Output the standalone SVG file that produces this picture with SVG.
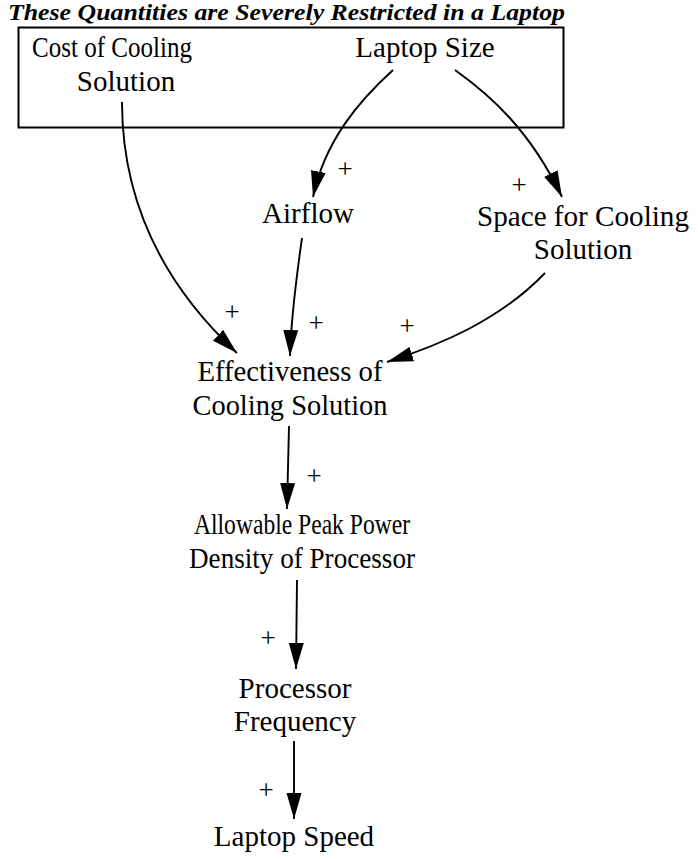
<svg xmlns="http://www.w3.org/2000/svg" width="698" height="859" viewBox="0 0 698 859">
  <style>
    .lbl { font-family: "Liberation Serif", "Times New Roman", serif; font-size: 29px; fill: #000; text-anchor: middle; }
    .sign { font-family: "Liberation Serif", "Times New Roman", serif; font-size: 27px; fill: #000; text-anchor: middle; }
    .title { font-family: "Liberation Serif", "Times New Roman", serif; font-size: 24px; font-weight: bold; font-style: italic; fill: #000; }
    .link { fill: none; stroke: #000; stroke-width: 1.9; marker-end: url(#head); }
  </style>
  <defs>
    <marker id="head" markerUnits="userSpaceOnUse" markerWidth="27" markerHeight="16" refX="26" refY="8" orient="auto">
      <path d="M0,0.5 L26,8 L0,15.5 z" fill="#000"/>
    </marker>
  </defs>
  <rect width="698" height="859" fill="#fff"/>

  <!-- frame around the constrained quantities -->
  <g id="constraints">
    <text class="title" x="8" y="20" textLength="557" lengthAdjust="spacingAndGlyphs">These Quantities are Severely Restricted in a Laptop</text>
    <rect x="18.5" y="27.5" width="545" height="100" fill="none" stroke="#000" stroke-width="2"/>
  </g>

  <g id="cost">
    <text class="lbl" x="112" y="57" textLength="160" lengthAdjust="spacingAndGlyphs">Cost of Cooling</text>
    <text class="lbl" x="126" y="91">Solution</text>
  </g>
  <g id="laptop-size">
    <text class="lbl" x="425" y="57">Laptop Size</text>
  </g>
  <g id="airflow">
    <text class="lbl" x="308" y="223">Airflow</text>
  </g>
  <g id="space">
    <text class="lbl" x="583" y="226" textLength="212" lengthAdjust="spacingAndGlyphs">Space for Cooling</text>
    <text class="lbl" x="583" y="259">Solution</text>
  </g>
  <g id="effectiveness">
    <text class="lbl" x="290" y="381" textLength="185" lengthAdjust="spacingAndGlyphs">Effectiveness of</text>
    <text class="lbl" x="290" y="415" textLength="195" lengthAdjust="spacingAndGlyphs">Cooling Solution</text>
  </g>
  <g id="power-density">
    <text class="lbl" x="302" y="534" textLength="216" lengthAdjust="spacingAndGlyphs">Allowable Peak Power</text>
    <text class="lbl" x="302" y="568" textLength="226" lengthAdjust="spacingAndGlyphs">Density of Processor</text>
  </g>
  <g id="frequency">
    <text class="lbl" x="295" y="698">Processor</text>
    <text class="lbl" x="295" y="731">Frequency</text>
  </g>
  <g id="speed">
    <text class="lbl" x="294" y="846">Laptop Speed</text>
  </g>

  <g id="links">
    <path class="link" d="M393,70 C360,100 325,140 313,197"/>
    <path class="link" d="M455,70 C490,95 530,130 562,197"/>
    <path class="link" d="M122,102 C122,220 180,300 237,353"/>
    <path class="link" d="M302,238 C296,280 291,320 290,356"/>
    <path class="link" d="M545,273 C500,320 440,345 387,362"/>
    <path class="link" d="M289,426 L287,509"/>
    <path class="link" d="M297,580 L296,669"/>
    <path class="link" d="M294,741 L294,819"/>
  </g>

  <g id="polarities">
    <text class="sign" x="345" y="178">+</text>
    <text class="sign" x="519" y="194">+</text>
    <text class="sign" x="232" y="321">+</text>
    <text class="sign" x="316" y="332">+</text>
    <text class="sign" x="407" y="335">+</text>
    <text class="sign" x="314" y="485">+</text>
    <text class="sign" x="268" y="647">+</text>
    <text class="sign" x="266" y="799">+</text>
  </g>
</svg>
